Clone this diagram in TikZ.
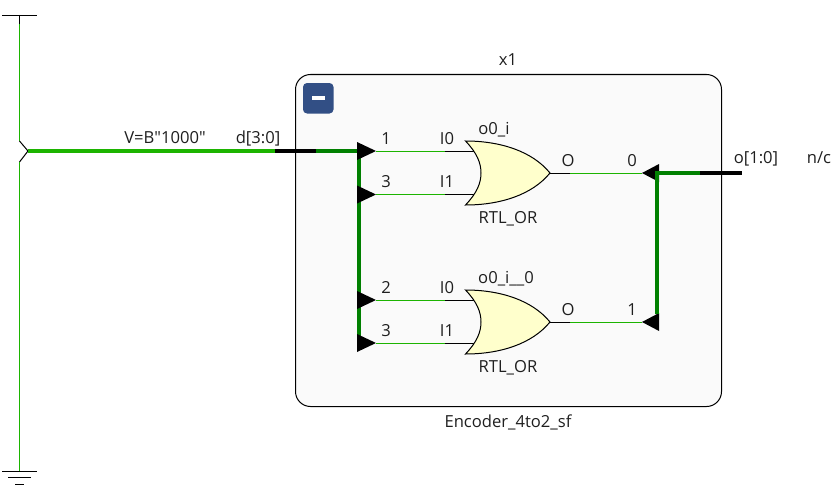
\documentclass[tikz,border=0pt]{standalone}
\usepackage{fontspec}
\setmainfont{Open Sans}
\newfontfamily\plainquote{Open Sans}
\definecolor{brightg}{HTML}{1CB400}
\definecolor{darkg}{HTML}{008000}
\definecolor{boxfill}{HTML}{FAFAFA}
\definecolor{gatefill}{HTML}{FFFFCC}
\definecolor{btn}{HTML}{324F85}
\tikzset{
  lab/.style={inner sep=0pt,anchor=base,font=\fontsize{16.6}{20}\selectfont,text=black!88},
  thin wire/.style={line width=1pt,draw=black},
  thin green/.style={line width=1pt,draw=brightg},
  bus black/.style={line width=3.8pt,draw=black},
  bus green/.style={line width=3.8pt,draw=darkg},
  bus bright/.style={line width=3.2pt,draw=brightg},
  pin/.style={fill=black,draw=none},
  gate/.style={fill=gatefill,draw=black,line width=1pt,line join=miter},
}
\begin{document}
\begin{tikzpicture}[x=1pt,y=-1pt]
\useasboundingbox (0,0) rectangle (835,495);
% source rail
\coordinate (railTop) at (19.5,15);
\coordinate (railA) at (19.5,24);
\coordinate (railB) at (19.5,141);
\coordinate (kink) at (28,151);
\coordinate (railC) at (19.5,162);
\coordinate (gnd) at (19.5,471);
\draw[thin wire] (2,15.5) -- (37,15.5);
\draw[thin wire] (railTop) -- (railA);
\draw[thin green] (railA) -- (railB);
\draw[thin wire] (railB) -- (kink) -- (railC);
\draw[thin green] (railC) -- (gnd);
\draw[thin wire] (2,471.5) -- (37,471.5);
\draw[thin wire] (8,477.5) -- (31,477.5);
\draw[thin wire] (15,484.5) -- (24,484.5);
% instance box
\draw[fill=boxfill,draw=black,line width=1pt,rounded corners=15pt] (295.5,74.5) rectangle (721.5,406.5);
\fill[btn,rounded corners=4pt] (303,83) rectangle (333.5,113.5);
\fill[white] (312,96) rectangle (325,100);
% input bus
\coordinate (busA) at (275,151);
\coordinate (busB) at (316,151);
\coordinate (busC) at (359,151);
\coordinate (busD) at (359,343);
\draw[bus bright] (kink) -- (busA);
\draw[bus black] (busA) -- (busB);
\draw[bus green] (busB) -- (busC) -- (busD);
% input rippers + wires
\foreach \n/\y in {a/151,b/194.5,c/300,d/343}{
  \coordinate (t\n) at (376,\y);
  \coordinate (m\n) at (445,\y);
  \coordinate (e\n) at (476,\y);
  \draw[thin green] (t\n) -- (m\n);
  \draw[thin wire] (m\n) -- (e\n);
  \fill[pin] (357,\y-9) -- (t\n) -- (357,\y+9) -- cycle;
}
% gates
\foreach \n/\yt/\yo in {g/141/173,h/290/322}{
  \coordinate (out\n) at (550,\yo);
  \coordinate (mid\n) at (570,\yo);
  \coordinate (tip\n) at (642,\yo);
  \draw[thin wire] (out\n) -- (mid\n);
  \draw[thin green] (mid\n) -- (tip\n);
  \draw[gate] (465.5,\yt) .. controls (500,\yt) and (532,\yt+10) .. (out\n)
     .. controls (532,\yt+54) and (500,\yt+64) .. (465.5,\yt+64)
     .. controls (477,\yt+52) and (481,\yt+42) .. (481,\yt+32)
     .. controls (481,\yt+22) and (477,\yt+12) .. cycle;
  \fill[pin] (659,\yo-9) -- (tip\n) -- (659,\yo+9) -- cycle;
}
% output bus
\coordinate (oA) at (657,314);
\coordinate (oB) at (657,172.7);
\coordinate (oC) at (700,172.7);
\coordinate (oD) at (742,172.7);
\draw[bus green] (oA) -- (oB) -- (oC);
\draw[bus black] (oC) -- (oD);
% labels
\node[lab] (x1) at (508,66) {x1};
\node[lab] (enc) at (508,427) {Encoder\_4to2\_sf};
\node[lab] (val) at (165,143) {\plainquote V=B"1000"};
\node[lab] (din) at (258,143) {d[3:0]};
\node[lab] (n1) at (386,144.5) {1};
\node[lab] (n3) at (386,187) {3};
\node[lab] (n2) at (386,293.5) {2};
\node[lab] (n3b) at (386,336.5) {3};
\node[lab] (i0) at (447,144.5) {I0};
\node[lab] (i1) at (447,187) {I1};
\node[lab] (i0b) at (447,293.5) {I0};
\node[lab] (i1b) at (447,336.5) {I1};
\node[lab] (ga) at (494,134.5) {o0\_i};
\node[lab] (gb) at (506,283.5) {o0\_i\_\_0};
\node[lab] (ra) at (508,223.5) {RTL\_OR};
\node[lab] (rb) at (508,372.5) {RTL\_OR};
\node[lab] (oa) at (568,166.5) {O};
\node[lab] (ob) at (568,315.5) {O};
\node[lab] (b0) at (632,166.5) {0};
\node[lab] (b1) at (632,315.5) {1};
\node[lab] (dout) at (756,163.5) {o[1:0]};
\node[lab] (nc) at (819,163.5) {n/c};
\end{tikzpicture}
\end{document}
